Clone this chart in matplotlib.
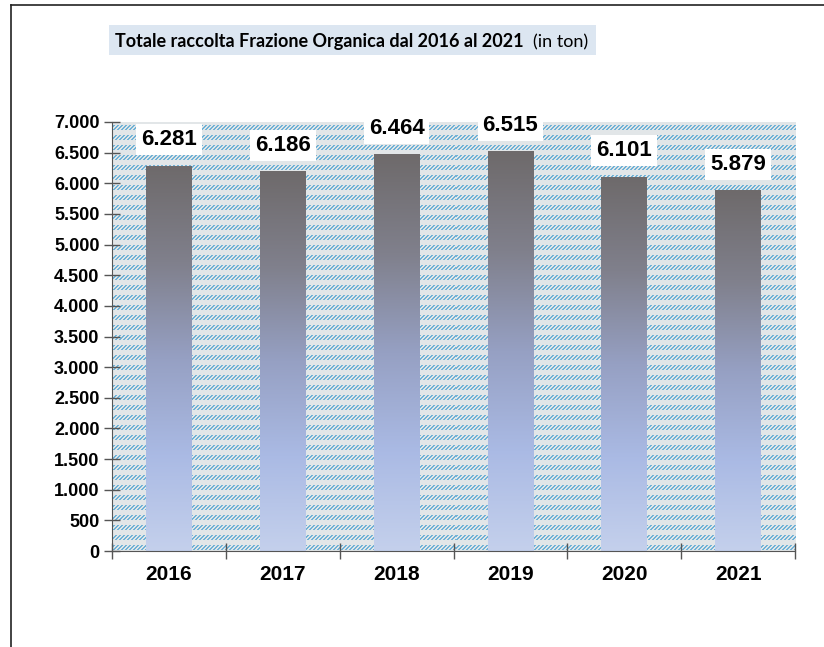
import matplotlib.pyplot as plt
import numpy as np
from matplotlib.lines import Line2D
from matplotlib.patches import Rectangle

years = ['2016', '2017', '2018', '2019', '2020', '2021']
tonnes = [6281, 6186, 6464, 6515, 6101, 5879]
y_ticks = [0, 500, 1000, 1500, 2000, 2500, 3000, 3500, 4000, 4500, 5000, 5500, 6000, 6500, 7000]

W, H = 824, 647
fig = plt.figure(figsize=(W / 100, H / 100), dpi=100)
ax = fig.add_axes([112 / W, 1 - 551 / H, (795 - 112) / W, (551 - 122) / H])

# hatched background of the plot area (rows of short "/" dashes)
ph, pw = 429, 683
r, c = np.mgrid[0:ph, 0:pw]
dash = ((r % 10) >= 3) & ((r % 10) <= 7) & (((c + r) % 4) < 2)
tex = np.zeros((ph, pw, 3))
tex[:] = np.array([226, 230, 232]) / 255
tex[dash] = np.array([112, 178, 214]) / 255
ax.imshow(tex, extent=[0, 1, 0, 1], transform=ax.transAxes, aspect='auto',
          interpolation='nearest', zorder=0)

x = np.arange(len(years))
bars = ax.bar(x, tonnes, width=0.4, facecolor='none', edgecolor='none', zorder=2)

# vertical gradient, grey on top fading to light blue
stops = np.array([[196, 208, 236], [170, 186, 228], [150, 160, 195],
                  [128, 128, 140], [110, 106, 107]]) / 255
n = 256
t = np.linspace(0, 1, n)
pos = np.linspace(0, 1, len(stops))
grad = np.stack([np.interp(t, pos, stops[:, k]) for k in range(3)], axis=1)
grad = grad[:, None, :]
for b in bars:
    x0, w, h = b.get_x(), b.get_width(), b.get_height()
    ax.imshow(grad, extent=[x0, x0 + w, 0, h], origin='lower', aspect='auto', zorder=2)

for xi, v in zip(x, tonnes):
    ax.annotate(f'{v:,}'.replace(',', '.'), (xi, v), xytext=(0, 19), textcoords='offset points',
                ha='center', va='center', fontsize=16, fontweight='bold',
                family='Liberation Sans', zorder=4,
                bbox=dict(boxstyle='square,pad=0.22', fc='white', ec='none'))

ax.set_xlim(-0.5, 5.5)
ax.set_ylim(0, 7000)
ax.set_yticks(y_ticks)
ax.set_yticklabels([f'{v:,}'.replace(',', '.') for v in y_ticks],
                   fontsize=13, fontweight='bold', family='Liberation Sans')
ax.set_xticks(np.arange(-0.5, 6, 1))
ax.set_xticklabels([])
ax.set_xticks(x, minor=True)
ax.set_xticklabels(years, minor=True, fontsize=15, fontweight='bold', family='Liberation Sans')
ax.tick_params(axis='x', which='minor', length=0, pad=10)
ax.tick_params(axis='both', which='major', direction='inout', length=12, color='#555555', width=1)
ax.tick_params(axis='y', pad=3)
for s in ['top', 'right']:
    ax.spines[s].set_visible(False)
for s in ['left', 'bottom']:
    ax.spines[s].set_color('#555555')
    ax.spines[s].set_zorder(5)

# title box
fig.patches.append(Rectangle((109 / W, 1 - 55 / H), (596 - 109) / W, 30 / H,
                             transform=fig.transFigure, fc='#dce6f1', ec='none', zorder=0))
t1 = fig.text(115 / W, 1 - 42 / H, 'Totale raccolta Frazione Organica dal 2016 al 2021',
              fontsize=13, fontweight='bold', family='Lato', va='center', ha='left')
fig.canvas.draw()
bb = t1.get_window_extent()
fig.text((bb.x1 + 9) / W, 1 - 42 / H, '(in ton)', fontsize=13, family='Lato',
         va='center', ha='left')

# outer frame lines (left and top)
fig.lines.append(Line2D([11 / W, 11 / W], [0, 1 - 5 / H], transform=fig.transFigure,
                        color='#222222', lw=1.2))
fig.lines.append(Line2D([11 / W, 1], [1 - 5 / H, 1 - 5 / H], transform=fig.transFigure,
                        color='#222222', lw=1.2))

fig.savefig('out.png', dpi=100)
